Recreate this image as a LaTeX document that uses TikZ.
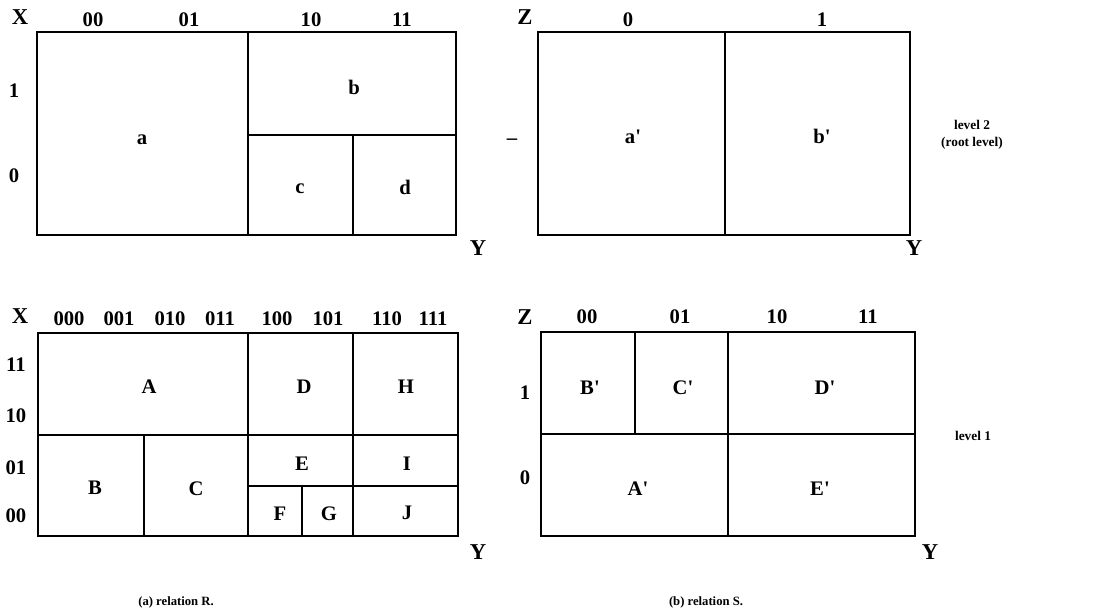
\documentclass[tikz,border=0pt]{standalone}
\usepackage{fontspec}
\setmainfont{Liberation Serif}
\newcommand{\pr}{\textquotesingle}
\begin{document}
\begin{tikzpicture}[x=0.75pt,y=-0.75pt,
  box/.style={line width=2pt},
  div/.style={line width=1.7pt},
  lbl/.style={font=\fontsize{15.5}{15.5}\selectfont\bfseries, inner sep=0pt, text height=0.66em, text depth=0pt, yshift=-2pt},
  axis/.style={font=\fontsize{17}{17}\selectfont\bfseries, inner sep=0pt, text height=0.66em, text depth=0pt, yshift=-2pt},
  lvl/.style={font=\fontsize{10}{12.5}\selectfont\bfseries, align=center, inner sep=0pt},
  captxt/.style={font=\fontsize{9.5}{11}\selectfont\bfseries, inner sep=0pt}]
\useasboundingbox (0,0) rectangle (1093,615);

% ---------- top-left: relation R, level 2
\draw[box] (37,32) rectangle (456,235);
\draw[div] (248,32) -- (248,235);
\draw[div] (248,135) -- (456,135);
\draw[div] (353,135) -- (353,235);
\node[axis] (tlX) at (20,17) {X};
\node[lbl] (tl00) at (93,19) {00};
\node[lbl] (tl01) at (189,19) {01};
\node[lbl] (tl10) at (311,19) {10};
\node[lbl] (tl11) at (402,19) {11};
\node[lbl] (tlr1) at (14,90) {1};
\node[lbl] (tlr0) at (14,175) {0};
\node[lbl] (ca) at (142,137) {a};
\node[lbl] (cb) at (354,87) {b};
\node[lbl] (cc) at (300,186) {c};
\node[lbl] (cd) at (405,187) {d};
\node[axis] (tlY) at (478,248) {Y};

% ---------- top-right: relation S, level 2
\draw[box] (538,32) rectangle (910,235);
\draw[div] (725,32) -- (725,235);
\node[axis] (trZ) at (525,17) {Z};
\node[lbl] (tr0) at (628,19) {0};
\node[lbl] (tr1) at (822,19) {1};
\node[lbl] (trdash) at (512,137) {–};
\node[lbl] (cap1) at (633,136) {a\pr};
\node[lbl] (cbp) at (822,136) {b\pr};
\node[axis] (trY) at (914,248) {Y};
\node[lvl] (lvl2) at (972,135) {level 2\\(root level)};

% ---------- bottom-left: relation R, level 1
\draw[box] (38,333) rectangle (458,536);
\draw[div] (248,333) -- (248,536);
\draw[div] (353,333) -- (353,536);
\draw[div] (38,435) -- (458,435);
\draw[div] (144,435) -- (144,536);
\draw[div] (248,486) -- (458,486);
\draw[div] (302,486) -- (302,536);
\node[axis] (blX) at (20,316) {X};
\node[lbl] (b000) at (69,318) {000};
\node[lbl] (b001) at (119,318) {001};
\node[lbl] (b010) at (170,318) {010};
\node[lbl] (b011) at (220,318) {011};
\node[lbl] (b100) at (277,318) {100};
\node[lbl] (b101) at (328,318) {101};
\node[lbl] (b110) at (387,318) {110};
\node[lbl] (b111) at (433,318) {111};
\node[lbl] (br11) at (16,364) {11};
\node[lbl] (br10) at (16,415) {10};
\node[lbl] (br01) at (16,467) {01};
\node[lbl] (br00) at (16,515) {00};
\node[lbl] (cA) at (149,386) {A};
\node[lbl] (cD) at (304,386) {D};
\node[lbl] (cH) at (406,386) {H};
\node[lbl] (cE) at (302,463) {E};
\node[lbl] (cI) at (407,463) {I};
\node[lbl] (cB) at (95,487) {B};
\node[lbl] (cC) at (196,488) {C};
\node[lbl] (cF) at (280,513) {F};
\node[lbl] (cG) at (329,513) {G};
\node[lbl] (cJ) at (407,512) {J};
\node[axis] (blY) at (478,552) {Y};

% ---------- bottom-right: relation S, level 1
\draw[box] (541,332) rectangle (915,536);
\draw[div] (728,332) -- (728,536);
\draw[div] (541,434) -- (915,434);
\draw[div] (635,332) -- (635,434);
\node[axis] (brZ) at (525,317) {Z};
\node[lbl] (s00) at (587,316) {00};
\node[lbl] (s01) at (680,316) {01};
\node[lbl] (s10) at (777,316) {10};
\node[lbl] (s11) at (868,316) {11};
\node[lbl] (sr1) at (525,392) {1};
\node[lbl] (sr0) at (525,477) {0};
\node[lbl] (cBp) at (590,387) {B\pr};
\node[lbl] (cCp) at (683,387) {C\pr};
\node[lbl] (cDp) at (825,387) {D\pr};
\node[lbl] (cAp) at (638,488) {A\pr};
\node[lbl] (cEp) at (820,488) {E\pr};
\node[axis] (brY) at (930,552) {Y};
\node[lvl] (lvl1) at (973,436) {level 1};

% ---------- captions
\node[captxt] (capa) at (176,602) {(a) relation R.};
\node[captxt] (capb) at (706,602) {(b) relation S.};
\end{tikzpicture}
\end{document}
